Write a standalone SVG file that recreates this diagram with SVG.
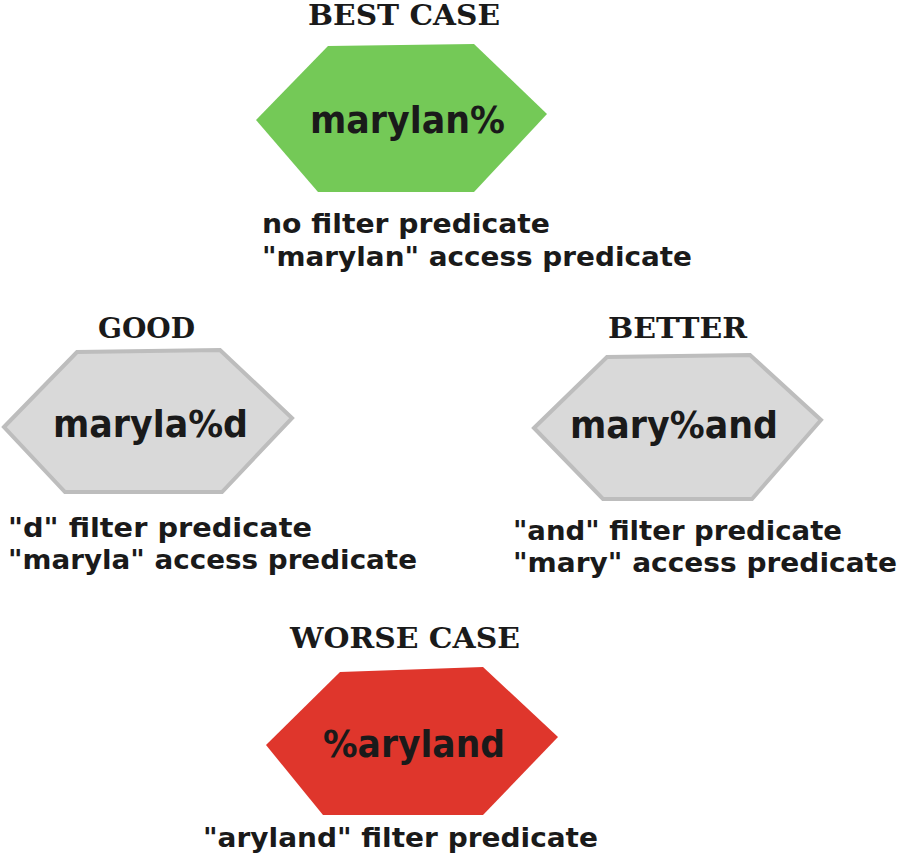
<svg xmlns="http://www.w3.org/2000/svg" width="900" height="862" viewBox="0 0 900 862">
<style>
.hd{font-family:"DejaVu Serif","Liberation Serif",serif;font-weight:bold;font-size:27px;fill:#1a1a1a}
.lb{font-family:"DejaVu Sans","Liberation Sans",sans-serif;font-weight:bold;font-size:38px;fill:#1a1a1a}
.sb{font-family:"DejaVu Sans","Liberation Sans",sans-serif;font-weight:bold;font-size:27px;fill:#1a1a1a}
.gray{fill:#d9d9d9;stroke:#bdbdbd;stroke-width:4;stroke-linejoin:miter}
</style>
<rect width="900" height="862" fill="#ffffff"/>
<g id="connectors"/>
<g id="best">
<text class="hd" x="308" y="25" textLength="192" lengthAdjust="spacingAndGlyphs">BEST CASE</text>
<polygon points="256,120 328,46 474,44 547,114 474,192 318,192" fill="#74c957"/>
<text class="lb" x="310" y="133" textLength="195" lengthAdjust="spacingAndGlyphs">marylan%</text>
<text class="sb" x="262" y="233" textLength="288" lengthAdjust="spacingAndGlyphs">no filter predicate</text>
<text class="sb" x="262" y="266" textLength="430" lengthAdjust="spacingAndGlyphs">"marylan" access predicate</text>
</g>
<g id="good">
<text class="hd" x="98" y="338" textLength="97" lengthAdjust="spacingAndGlyphs">GOOD</text>
<polygon class="gray" points="4,427 77,352 220,350 292,418 222,492 65,492"/>
<text class="lb" x="53" y="437" textLength="195" lengthAdjust="spacingAndGlyphs">maryla%d</text>
<text class="sb" x="8" y="537" textLength="304" lengthAdjust="spacingAndGlyphs">"d" filter predicate</text>
<text class="sb" x="8" y="569" textLength="409" lengthAdjust="spacingAndGlyphs">"maryla" access predicate</text>
</g>
<g id="better">
<text class="hd" x="608" y="338" textLength="139" lengthAdjust="spacingAndGlyphs">BETTER</text>
<polygon class="gray" points="534,428 607,357 750,355 821,420 752,499 603,499"/>
<text class="lb" x="570" y="438" textLength="208" lengthAdjust="spacingAndGlyphs">mary%and</text>
<text class="sb" x="513" y="540" textLength="329" lengthAdjust="spacingAndGlyphs">"and" filter predicate</text>
<text class="sb" x="513" y="572" textLength="384" lengthAdjust="spacingAndGlyphs">"mary" access predicate</text>
</g>
<g id="worse">
<text class="hd" x="290" y="648" textLength="230" lengthAdjust="spacingAndGlyphs">WORSE CASE</text>
<polygon points="266,745 340,672 483,667 558,737 483,815 323,815" fill="#df362c"/>
<text class="lb" x="323" y="757" textLength="182" lengthAdjust="spacingAndGlyphs">%aryland</text>
<text class="sb" x="203" y="847" textLength="395" lengthAdjust="spacingAndGlyphs">"aryland" filter predicate</text>
</g>
</svg>
